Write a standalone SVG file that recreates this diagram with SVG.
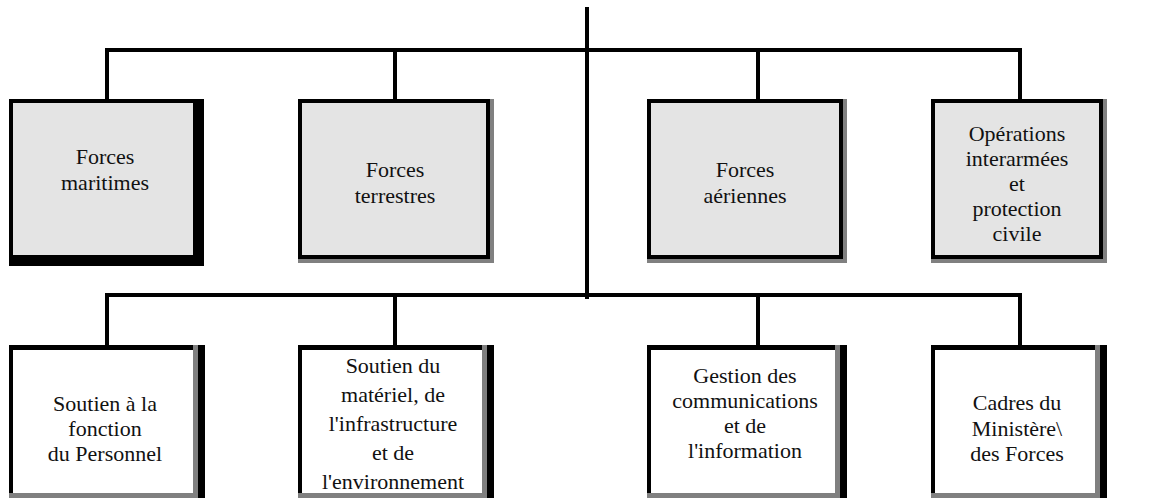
<svg xmlns="http://www.w3.org/2000/svg" width="1156" height="498" viewBox="0 0 1156 498">
  <style>
    text { font-family: 'Liberation Serif', 'Times New Roman', Times, 'DejaVu Serif', serif; font-size: 22px; fill: #111; text-anchor: middle; }
    .wire { stroke: #000; stroke-width: 4; fill: none; stroke-linecap: square; }
    .edge { fill: #000; }
    .shade { fill: #808080; }
    .grey { fill: #e4e4e4; }
    .white { fill: #fff; }
  </style>

  <!-- connectors -->
  <g id="connectors">
    <path class="wire" d="M587 9 V297"/>
    <path class="wire" d="M107 99 V50 H1020 V99 M395 50 V99 M758 50 V99"/>
    <path class="wire" d="M107 345 V295 H1020 V345 M395 295 V345 M758 295 V345"/>
  </g>

  <!-- upper row -->
  <g id="forces-maritimes">
    <rect class="edge" x="9" y="99" width="195" height="167"/>
    <rect class="grey" x="13" y="103" width="180" height="152"/>
    <text x="105" y="164">Forces</text>
    <text x="105" y="190">maritimes</text>
  </g>
  <g id="forces-terrestres">
    <rect class="shade" x="298" y="99" width="196" height="164"/>
    <rect class="edge" x="298" y="99" width="192" height="160"/>
    <rect class="grey" x="302" y="103" width="184" height="152"/>
    <text x="395" y="177">Forces</text>
    <text x="395" y="203">terrestres</text>
  </g>
  <g id="forces-aeriennes">
    <rect class="shade" x="647" y="99" width="200" height="164"/>
    <rect class="edge" x="647" y="99" width="196" height="160"/>
    <rect class="grey" x="651" y="103" width="188" height="152"/>
    <text x="745" y="177">Forces</text>
    <text x="745" y="203">aériennes</text>
  </g>
  <g id="operations-interarmees">
    <rect class="shade" x="931" y="99" width="176" height="164"/>
    <rect class="edge" x="931" y="99" width="172" height="160"/>
    <rect class="grey" x="935" y="103" width="164" height="152"/>
    <text x="1017" y="141">Opérations</text>
    <text x="1017" y="166">interarmées</text>
    <text x="1017" y="191">et</text>
    <text x="1017" y="216">protection</text>
    <text x="1017" y="241">civile</text>
  </g>

  <!-- lower row -->
  <g id="soutien-personnel">
    <rect class="edge" x="9" y="345" width="196" height="153"/>
    <rect class="shade" x="193" y="345" width="5" height="153"/>
    <rect class="shade" x="9" y="493" width="189" height="5"/>
    <rect class="white" x="13" y="350" width="180" height="143"/>
    <text x="105" y="411">Soutien à la</text>
    <text x="105" y="436">fonction</text>
    <text x="105" y="461">du Personnel</text>
  </g>
  <g id="soutien-materiel">
    <rect class="edge" x="298" y="345" width="196" height="153"/>
    <rect class="shade" x="482" y="345" width="5" height="153"/>
    <rect class="shade" x="298" y="493" width="189" height="5"/>
    <rect class="white" x="302" y="350" width="180" height="143"/>
    <text x="393" y="373">Soutien du</text>
    <text x="393" y="402">matériel, de</text>
    <text x="393" y="431">l'infrastructure</text>
    <text x="393" y="460">et de</text>
    <text x="393" y="489">l'environnement</text>
  </g>
  <g id="gestion-communications">
    <rect class="edge" x="647" y="345" width="200" height="153"/>
    <rect class="shade" x="835" y="345" width="5" height="153"/>
    <rect class="shade" x="647" y="493" width="193" height="5"/>
    <rect class="white" x="651" y="350" width="184" height="143"/>
    <text x="745" y="383">Gestion des</text>
    <text x="745" y="408">communications</text>
    <text x="745" y="433">et de</text>
    <text x="745" y="458">l'information</text>
  </g>
  <g id="cadres-ministere">
    <rect class="edge" x="931" y="345" width="176" height="153"/>
    <rect class="shade" x="1095" y="345" width="5" height="153"/>
    <rect class="shade" x="931" y="493" width="169" height="5"/>
    <rect class="white" x="935" y="350" width="160" height="143"/>
    <text x="1017" y="410">Cadres du</text>
    <text x="1017" y="436">Ministère\</text>
    <text x="1017" y="461">des Forces</text>
  </g>
</svg>
